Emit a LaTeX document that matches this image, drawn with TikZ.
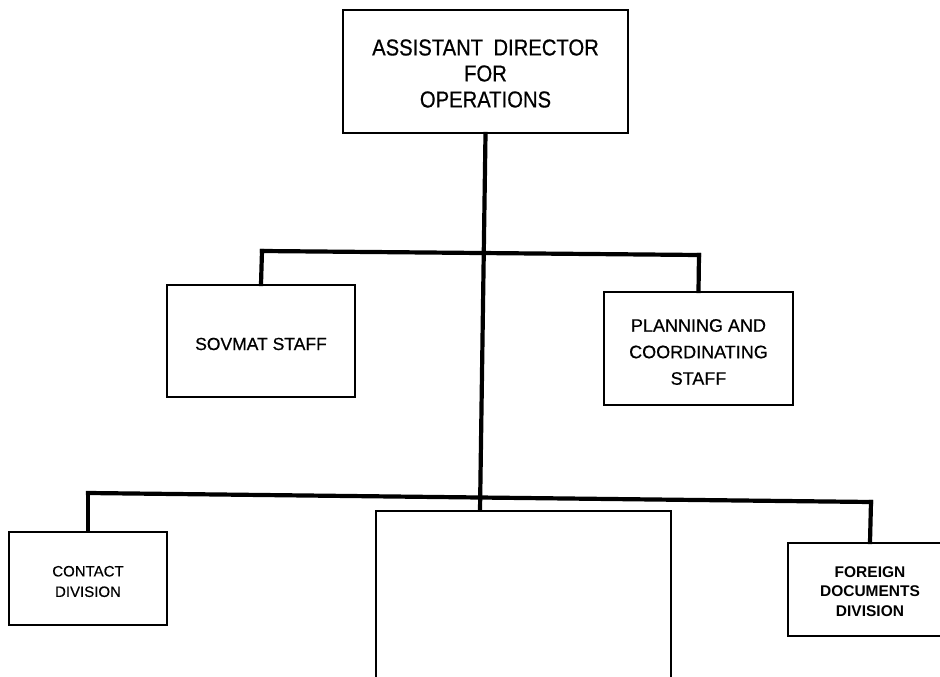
\documentclass[tikz,border=0pt]{standalone}
\usepackage{fontspec}
\setmainfont{Liberation Sans}
\newfontfamily\topfont[FakeStretch=0.88,FakeBold=0.6]{Liberation Sans}
\newfontfamily\midfont[FakeBold=0.6]{Liberation Sans}
\newfontfamily\lowfont[FakeBold=0.4]{Liberation Sans}
\newcommand{\lowerby}[2]{\raisebox{-#1}[\height][\depth]{#2}}
\tikzset{
  conn/.style={line width=4.2pt, line cap=rect, line join=miter},
  box/.style={draw, line width=2pt, fill=white, align=center, inner sep=0pt},
  topbox/.style={box, minimum width=285pt, minimum height=123pt,
    font=\topfont\fontsize{23}{26}\selectfont},
  midbox/.style={box, font=\midfont\fontsize{17.5}{26.5}\selectfont},
  lowbox/.style={box, minimum height=93pt, font=\lowfont\fontsize{15}{20.5}\selectfont},
}
\begin{document}
\begin{tikzpicture}[x=1pt, y=-1pt]
\clip (0,0) rectangle (940,677);
\fill[white] (0,0) rectangle (940,677);
% connector junctions
\coordinate (ml) at (262,251);
\coordinate (mr) at (699,255);
\coordinate (bl) at (88,493);
\coordinate (br) at (871,502);
\coordinate (bc) at (480,511);
% connectors (drawn first, boxes on top)
\node[topbox] (top) at (485.5,71.5) {\lowerby{2pt}{\parbox{270pt}{\centering ASSISTANT\hspace{0.45em}DIRECTOR\\FOR\\OPERATIONS}}};
\draw[conn] (top.south) -- (bc);
\draw[conn] (ml) -- (mr);
\draw[conn] (bl) -- (br);
\node[midbox, minimum width=188pt, minimum height=112pt] (sov) at (261,341) {\lowerby{3pt}{SOVMAT STAFF}};
\node[midbox, minimum width=189pt, minimum height=113pt, font=\midfont\fontsize{18}{26.5}\selectfont] (plan) at (698.5,348.5) {\lowerby{3.5pt}{\parbox{180pt}{\centering PLANNING AND\\COORDINATING\\STAFF}}};
\draw[conn] (ml) -- (sov.north);
\draw[conn] (mr) -- (plan.north);
\node[lowbox, minimum width=158pt] (contact) at (88,578.5) {\lowerby{3pt}{\parbox{150pt}{\centering CONTACT\\DIVISION}}};
\node[box, minimum width=295pt, minimum height=180pt, line width=2.2pt] (cbox) at (523.5,601) {};
\node[lowbox, minimum width=164pt, font=\bfseries\fontsize{15.5}{19.5}\selectfont] (foreign) at (870,589.5) {\lowerby{2pt}{\parbox{160pt}{\centering FOREIGN\\DOCUMENTS\\DIVISION}}};
\draw[conn] (bl) -- (contact.north);
\draw[conn] (br) -- (foreign.north);
\end{tikzpicture}
\end{document}
